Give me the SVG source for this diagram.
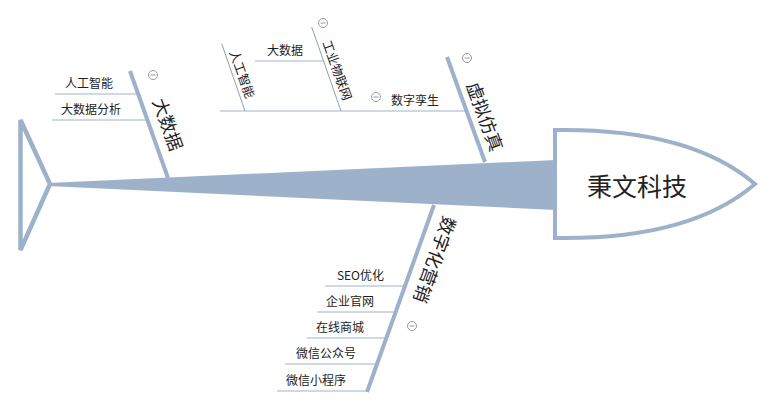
<svg xmlns="http://www.w3.org/2000/svg" width="774" height="409" viewBox="0 0 774 409">
<style>
.bone{stroke:#9db2ca;stroke-width:4;fill:none;stroke-linecap:butt}
.sub{stroke:#9fb3c9;stroke-width:1;fill:none}
.sub2{stroke:#8e9fb4;stroke-width:1;fill:none}
.t{font-family:"Noto Sans CJK SC","Liberation Sans",sans-serif;font-size:12px;fill:#222}
.tr{font-family:"Noto Sans CJK SC","Liberation Sans",sans-serif;font-size:12.5px;fill:#222;text-anchor:middle;dominant-baseline:central}
.big{font-family:"Noto Sans CJK SC","Liberation Sans",sans-serif;font-size:18px;fill:#222;text-anchor:middle;dominant-baseline:central}
.head{font-family:"Noto Sans CJK SC","Liberation Sans",sans-serif;font-size:25px;fill:#222;text-anchor:middle;dominant-baseline:central}
.col circle{fill:#fff;stroke:#9a9a9a;stroke-width:1}
.col line{stroke:#9a9a9a;stroke-width:1}
</style>
<defs>
<g id="minus" class="col"><circle cx="0" cy="0" r="4.5"/><line x1="-2.5" y1="0" x2="2.5" y2="0"/></g>
</defs>
<rect width="774" height="409" fill="#fff"/>
<g id="connectors">
  <polygon id="spine" points="48,183 556,160 556,210 48,186" fill="#9db2ca"/>
  <path id="tail" d="M20.5,120 L50,184 L20.5,250 Z" fill="none" stroke="#9db2ca" stroke-width="4.5" stroke-linejoin="miter"/>
  <line class="bone" x1="130" y1="71" x2="168" y2="178"/>
  <line class="bone" x1="447" y1="57" x2="485" y2="162"/>
  <line class="bone" x1="434" y1="205" x2="367" y2="392"/>
  <line class="sub" x1="55" y1="94" x2="138" y2="94"/>
  <line class="sub" x1="52" y1="120" x2="147" y2="120"/>
  <line class="sub" x1="220" y1="111" x2="466" y2="111"/>
  <line class="sub2" x1="221.7" y1="43.7" x2="245" y2="111"/>
  <line class="sub2" x1="311.7" y1="27" x2="341" y2="111"/>
  <line class="sub" x1="255" y1="61" x2="324.5" y2="61"/>
  <line class="sub" x1="325" y1="286" x2="405" y2="286"/>
  <line class="sub" x1="317" y1="312" x2="395.5" y2="312"/>
  <line class="sub" x1="307" y1="338" x2="386" y2="338"/>
  <line class="sub" x1="285" y1="364" x2="377" y2="364"/>
  <line class="sub" x1="277" y1="391" x2="367.5" y2="391"/>
</g>
<g id="node-head">
  <path d="M555,130 Q690,128 755,184 Q690,240 555,238 Z" fill="#fff" stroke="#9db2ca" stroke-width="4"/>
  <text class="head" x="637" y="185">秉文科技</text>
</g>
<g id="node-dashuju">
  <text class="big" x="169" y="124" transform="rotate(70 169 124)">大数据</text>
  <use href="#minus" x="153" y="75"/>
</g>
<g id="node-rengongzhineng-1"><text class="t" x="113" y="87.5" text-anchor="end">人工智能</text></g>
<g id="node-dashujufenxi"><text class="t" x="121" y="113.5" text-anchor="end">大数据分析</text></g>
<g id="node-xunifangzhen">
  <text class="big" x="486" y="116" transform="rotate(70 486 116)">虚拟仿真</text>
  <use href="#minus" x="467" y="58"/>
</g>
<g id="node-shuziluansheng">
  <text class="t" x="439" y="104.5" text-anchor="end">数字孪生</text>
  <use href="#minus" x="376" y="97"/>
</g>
<g id="node-rengongzhineng-2"><text class="tr" x="243" y="74" transform="rotate(70 243 74)">人工智能</text></g>
<g id="node-gongyewulianwang">
  <text class="tr" x="338" y="70" transform="rotate(70 338 70)">工业物联网</text>
  <use href="#minus" x="323" y="23"/>
</g>
<g id="node-dashuju-2"><text class="t" x="303" y="55" text-anchor="end">大数据</text></g>
<g id="node-shuzihuayingxiao">
  <text class="big" x="436" y="260" transform="rotate(110 436 260)">数字化营销</text>
  <use href="#minus" x="412" y="326"/>
</g>
<g id="node-seo"><text class="t" x="384" y="280" text-anchor="end">SEO优化</text></g>
<g id="node-guanwang"><text class="t" x="374" y="306" text-anchor="end">企业官网</text></g>
<g id="node-shangcheng"><text class="t" x="364" y="332" text-anchor="end">在线商城</text></g>
<g id="node-gongzhonghao"><text class="t" x="356" y="358" text-anchor="end">微信公众号</text></g>
<g id="node-xiaochengxu"><text class="t" x="346" y="385" text-anchor="end">微信小程序</text></g>
</svg>
